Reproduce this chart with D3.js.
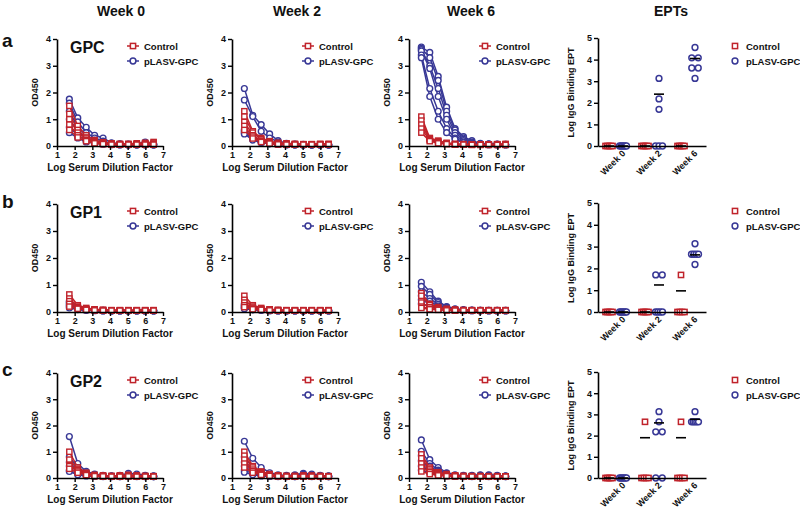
<!DOCTYPE html>
<html><head><meta charset="utf-8">
<script src="https://cdn.jsdelivr.net/npm/d3@7"></script>
<style>
body{margin:0;background:#fff}
text{font-family:"Liberation Sans",Arial,sans-serif;font-weight:bold;fill:#111}
</style>
</head><body>
<svg id="chart" width="800" height="510"></svg>
<script>
// ---------- DATA ----------
const dilutions = [1.699, 2.176, 2.653, 3.130, 3.607, 4.084, 4.561, 5.038, 5.515, 5.992, 6.469];
const weeks = ["Week 0", "Week 2", "Week 6"];
const columnTitles = ["Week 0", "Week 2", "Week 6", "EPTs"];
const antigens = ["GPC", "GP1", "GP2"];
const rowLetters = ["a", "b", "c"];
const seriesNames = ["Control", "pLASV-GPC"];
const odTicks = [0, 1, 2, 3, 4];
const dilutionTicks = [1, 2, 3, 4, 5, 6, 7];
const eptTicks = [0, 1, 2, 3, 4, 5];

// GPC OD450 curves
const gpcW0Control = [
 [1.50,0.75,0.40,0.22,0.14,0.10,0.08,0.08,0.10,0.12,0.15],
 [1.20,0.60,0.32,0.18,0.12,0.08,0.07,0.07,0.08,0.10,0.12],
 [1.00,0.50,0.28,0.15,0.10,0.07,0.06,0.06,0.07,0.08,0.08],
 [0.80,0.40,0.22,0.12,0.08,0.06,0.05,0.05,0.06,0.06,0.06],
 [0.60,0.32,0.18,0.10,0.07,0.05,0.05,0.05,0.05,0.05,0.05]];
const gpcW0Plasv = [
 [1.75,1.05,0.70,0.40,0.30,0.12,0.08,0.07,0.07,0.15,0.08],
 [1.60,0.90,0.50,0.30,0.18,0.10,0.07,0.06,0.06,0.08,0.06],
 [1.30,0.70,0.40,0.22,0.12,0.08,0.06,0.05,0.05,0.06,0.05],
 [1.00,0.55,0.30,0.18,0.10,0.07,0.05,0.05,0.05,0.05,0.05],
 [0.70,0.40,0.22,0.12,0.08,0.06,0.05,0.04,0.04,0.05,0.04],
 [0.50,0.30,0.15,0.10,0.07,0.05,0.04,0.04,0.04,0.04,0.04]];
const gpcW2Control = [
 [1.30,0.55,0.30,0.18,0.12,0.10,0.08,0.07,0.07,0.08,0.08],
 [1.10,0.50,0.25,0.15,0.10,0.08,0.07,0.06,0.06,0.07,0.07],
 [0.90,0.40,0.20,0.12,0.08,0.07,0.06,0.06,0.06,0.06,0.06],
 [0.75,0.35,0.18,0.10,0.07,0.06,0.05,0.05,0.05,0.05,0.05],
 [0.60,0.28,0.15,0.09,0.06,0.05,0.05,0.05,0.05,0.05,0.05]];
const gpcW2Plasv = [
 [2.15,1.15,0.80,0.45,0.20,0.10,0.07,0.06,0.05,0.05,0.05],
 [1.72,1.10,0.55,0.30,0.15,0.08,0.06,0.05,0.05,0.05,0.05],
 [0.60,0.35,0.20,0.12,0.08,0.06,0.05,0.05,0.05,0.05,0.05],
 [0.55,0.30,0.18,0.10,0.07,0.05,0.05,0.04,0.04,0.04,0.04],
 [0.50,0.25,0.15,0.09,0.06,0.05,0.04,0.04,0.04,0.04,0.04],
 [0.45,0.22,0.12,0.08,0.06,0.05,0.04,0.04,0.04,0.04,0.04]];
const gpcW6Control = [
 [1.10,0.30,0.20,0.12,0.08,0.07,0.06,0.06,0.06,0.07,0.08],
 [0.95,0.28,0.18,0.10,0.07,0.06,0.06,0.05,0.05,0.06,0.06],
 [0.80,0.25,0.15,0.09,0.06,0.05,0.05,0.05,0.05,0.05,0.05],
 [0.65,0.22,0.12,0.08,0.06,0.05,0.05,0.05,0.05,0.05,0.05],
 [0.50,0.18,0.10,0.07,0.05,0.05,0.04,0.04,0.04,0.04,0.04]];
const gpcW6Plasv = [
 [3.70,3.50,2.60,1.45,0.65,0.35,0.20,0.10,0.08,0.07,0.06],
 [3.65,3.30,2.45,1.30,0.60,0.30,0.15,0.08,0.07,0.06,0.06],
 [3.60,3.00,2.15,1.15,0.50,0.25,0.12,0.08,0.06,0.06,0.05],
 [3.55,2.90,1.85,1.00,0.40,0.20,0.10,0.07,0.06,0.05,0.05],
 [3.40,2.15,1.30,0.65,0.30,0.15,0.08,0.06,0.05,0.05,0.05],
 [3.30,1.85,1.00,0.50,0.25,0.12,0.07,0.06,0.05,0.05,0.05]];

// GP1 OD450 curves
const gp1W0Control = [
 [0.65,0.25,0.15,0.10,0.08,0.07,0.07,0.07,0.07,0.07,0.07],
 [0.50,0.20,0.12,0.09,0.07,0.06,0.06,0.06,0.06,0.06,0.06],
 [0.40,0.18,0.10,0.08,0.07,0.06,0.06,0.06,0.06,0.06,0.06],
 [0.30,0.15,0.09,0.07,0.06,0.05,0.05,0.05,0.05,0.05,0.05],
 [0.20,0.12,0.08,0.06,0.05,0.05,0.05,0.05,0.05,0.05,0.05]];
const gp1W0Plasv = [
 [0.40,0.18,0.10,0.07,0.06,0.05,0.05,0.05,0.05,0.05,0.05],
 [0.35,0.16,0.09,0.07,0.06,0.05,0.05,0.05,0.05,0.05,0.05],
 [0.30,0.14,0.08,0.06,0.05,0.05,0.05,0.05,0.05,0.05,0.05],
 [0.25,0.12,0.08,0.06,0.05,0.05,0.05,0.05,0.05,0.05,0.05],
 [0.20,0.10,0.07,0.06,0.05,0.05,0.05,0.05,0.05,0.05,0.05],
 [0.15,0.09,0.06,0.05,0.05,0.05,0.05,0.05,0.05,0.05,0.05]];
const gp1W2Control = [
 [0.60,0.25,0.15,0.10,0.08,0.07,0.07,0.07,0.07,0.07,0.07],
 [0.45,0.20,0.12,0.09,0.07,0.06,0.06,0.06,0.06,0.06,0.06],
 [0.35,0.16,0.10,0.08,0.06,0.06,0.06,0.06,0.06,0.06,0.06],
 [0.25,0.13,0.09,0.07,0.06,0.05,0.05,0.05,0.05,0.05,0.05],
 [0.18,0.10,0.08,0.06,0.05,0.05,0.05,0.05,0.05,0.05,0.05]];
const gp1W2Plasv = [
 [0.30,0.15,0.10,0.07,0.06,0.05,0.05,0.05,0.05,0.05,0.05],
 [0.25,0.13,0.09,0.06,0.05,0.05,0.05,0.05,0.05,0.05,0.05],
 [0.22,0.12,0.08,0.06,0.05,0.05,0.05,0.05,0.05,0.05,0.05],
 [0.18,0.10,0.07,0.06,0.05,0.05,0.05,0.05,0.05,0.05,0.05],
 [0.15,0.09,0.07,0.05,0.05,0.05,0.05,0.05,0.05,0.05,0.05],
 [0.12,0.08,0.06,0.05,0.05,0.05,0.05,0.05,0.05,0.05,0.05]];
const gp1W6Control = [
 [0.70,0.30,0.18,0.12,0.09,0.07,0.07,0.07,0.07,0.07,0.07],
 [0.60,0.26,0.15,0.10,0.08,0.07,0.06,0.06,0.06,0.06,0.06],
 [0.35,0.18,0.12,0.08,0.07,0.06,0.06,0.06,0.06,0.06,0.06],
 [0.20,0.12,0.09,0.07,0.06,0.05,0.05,0.05,0.05,0.05,0.05],
 [0.15,0.10,0.08,0.06,0.05,0.05,0.05,0.05,0.05,0.05,0.05]];
const gp1W6Plasv = [
 [1.10,0.75,0.40,0.20,0.12,0.08,0.07,0.06,0.06,0.06,0.06],
 [0.95,0.65,0.35,0.18,0.10,0.08,0.06,0.06,0.06,0.06,0.06],
 [0.75,0.50,0.28,0.15,0.09,0.07,0.06,0.06,0.05,0.05,0.05],
 [0.60,0.40,0.22,0.12,0.08,0.06,0.06,0.05,0.05,0.05,0.05],
 [0.45,0.30,0.18,0.10,0.07,0.06,0.05,0.05,0.05,0.05,0.05],
 [0.30,0.20,0.12,0.08,0.06,0.05,0.05,0.05,0.05,0.05,0.05]];

// GP2 OD450 curves
const gp2W0Control = [
 [1.00,0.40,0.20,0.12,0.10,0.08,0.10,0.12,0.10,0.08,0.07],
 [0.70,0.35,0.18,0.10,0.08,0.07,0.08,0.10,0.08,0.07,0.06],
 [0.50,0.30,0.15,0.09,0.07,0.06,0.07,0.08,0.07,0.06,0.06],
 [0.45,0.25,0.13,0.08,0.06,0.06,0.06,0.07,0.06,0.06,0.05],
 [0.35,0.20,0.11,0.07,0.06,0.05,0.05,0.06,0.05,0.05,0.05]];
const gp2W0Plasv = [
 [1.58,0.55,0.25,0.15,0.10,0.08,0.10,0.18,0.15,0.10,0.08],
 [0.80,0.40,0.20,0.12,0.08,0.07,0.08,0.12,0.10,0.08,0.07],
 [0.60,0.30,0.18,0.10,0.07,0.06,0.07,0.10,0.08,0.07,0.06],
 [0.45,0.25,0.14,0.09,0.06,0.06,0.06,0.08,0.07,0.06,0.05],
 [0.30,0.15,0.10,0.07,0.06,0.05,0.05,0.06,0.06,0.05,0.05],
 [0.25,0.12,0.08,0.06,0.05,0.05,0.05,0.05,0.05,0.05,0.05]];
const gp2W2Control = [
 [1.00,0.45,0.25,0.15,0.10,0.08,0.08,0.10,0.09,0.08,0.07],
 [0.85,0.40,0.22,0.13,0.09,0.07,0.07,0.08,0.08,0.07,0.06],
 [0.70,0.32,0.18,0.11,0.08,0.06,0.06,0.07,0.07,0.06,0.06],
 [0.55,0.26,0.15,0.10,0.07,0.06,0.06,0.06,0.06,0.06,0.05],
 [0.40,0.20,0.12,0.08,0.06,0.05,0.05,0.05,0.05,0.05,0.05]];
const gp2W2Plasv = [
 [1.40,0.75,0.40,0.20,0.12,0.10,0.12,0.18,0.15,0.10,0.08],
 [0.80,0.40,0.22,0.12,0.08,0.07,0.09,0.14,0.12,0.08,0.07],
 [0.60,0.30,0.18,0.10,0.07,0.06,0.08,0.10,0.09,0.07,0.06],
 [0.45,0.22,0.14,0.09,0.06,0.06,0.07,0.08,0.07,0.06,0.05],
 [0.30,0.16,0.10,0.07,0.06,0.05,0.05,0.06,0.06,0.05,0.05],
 [0.22,0.12,0.08,0.06,0.05,0.05,0.05,0.05,0.05,0.05,0.05]];
const gp2W6Control = [
 [0.90,0.40,0.22,0.15,0.10,0.08,0.07,0.07,0.07,0.07,0.06],
 [0.75,0.35,0.18,0.12,0.09,0.07,0.07,0.07,0.06,0.06,0.06],
 [0.55,0.28,0.15,0.10,0.08,0.06,0.06,0.06,0.06,0.06,0.05],
 [0.40,0.22,0.12,0.09,0.07,0.06,0.06,0.06,0.05,0.05,0.05],
 [0.25,0.15,0.10,0.07,0.06,0.05,0.05,0.05,0.05,0.05,0.05]];
const gp2W6Plasv = [
 [1.45,0.70,0.40,0.20,0.12,0.10,0.10,0.12,0.12,0.10,0.08],
 [1.02,0.55,0.30,0.18,0.10,0.08,0.09,0.10,0.10,0.08,0.07],
 [0.85,0.45,0.25,0.15,0.09,0.07,0.08,0.09,0.09,0.07,0.06],
 [0.65,0.35,0.20,0.12,0.08,0.06,0.07,0.08,0.07,0.06,0.06],
 [0.45,0.25,0.15,0.10,0.07,0.06,0.06,0.06,0.06,0.05,0.05],
 [0.30,0.18,0.11,0.08,0.06,0.05,0.05,0.05,0.05,0.05,0.05]];

// EPT (log IgG binding endpoint titers), one array per week
const gpcEptControl = [[0,0,0,0,0],[0,0,0,0,0],[0,0,0,0,0]];
const gpcEptPlasv = [[0,0,0,0,0,0],[3.13,2.18,1.70,0,0,0],[4.56,4.08,4.08,3.61,3.61,3.13]];
const gpcEptControlMean = [0, 0, 0];
const gpcEptPlasvMean = [0, 2.40, 4.05];
const gp1EptControl = [[0,0,0,0,0],[0,0,0,0,0],[1.70,0,0,0,0]];
const gp1EptPlasv = [[0,0,0,0,0,0],[1.70,1.70,0,0,0,0],[3.13,2.65,2.65,2.65,2.65,2.18]];
const gp1EptControlMean = [0, 0, 0.97];
const gp1EptPlasvMean = [0, 1.24, 2.62];
const gp2EptControl = [[0,0,0,0,0],[2.65,0,0,0,0],[2.65,0,0,0,0]];
const gp2EptPlasv = [[0,0,0,0,0,0],[3.13,2.65,2.18,2.18,0,0],[3.13,2.65,2.65,2.65,2.65,2.65]];
const gp2EptControlMean = [0, 1.90, 1.90];
const gp2EptPlasvMean = [0, 2.60, 2.77];

// ---------- LAYOUT ----------
const RED = "#c0232b", BLUE = "#383896";
const colX0 = [57, 232, 409];
const plotW = 106;
const eptX0 = 598, eptW = 108;
const rowTop = [39, 204, 373];
const rowBottom = [146, 312, 478];
const letterY = [47, 208, 376];
const headerX = [121, 297, 471, 671];

const curveData = [
  [[gpcW0Control, gpcW0Plasv], [gpcW2Control, gpcW2Plasv], [gpcW6Control, gpcW6Plasv]],
  [[gp1W0Control, gp1W0Plasv], [gp1W2Control, gp1W2Plasv], [gp1W6Control, gp1W6Plasv]],
  [[gp2W0Control, gp2W0Plasv], [gp2W2Control, gp2W2Plasv], [gp2W6Control, gp2W6Plasv]]];
const eptData = [
  [gpcEptControl, gpcEptPlasv, gpcEptControlMean, gpcEptPlasvMean],
  [gp1EptControl, gp1EptPlasv, gp1EptControlMean, gp1EptPlasvMean],
  [gp2EptControl, gp2EptPlasv, gp2EptControlMean, gp2EptPlasvMean]];

const svg = d3.select("#chart");

function marker(g, kind, cx, cy, color, sw) {
  if (kind === 0) {
    g.append("rect").attr("x", cx - 2.6).attr("y", cy - 2.6).attr("width", 5.2).attr("height", 5.2)
      .attr("fill", "#fff").attr("stroke", color).attr("stroke-width", sw);
  } else {
    g.append("circle").attr("cx", cx).attr("cy", cy).attr("r", 2.9)
      .attr("fill", "#fff").attr("stroke", color).attr("stroke-width", sw);
  }
}

function styleAxis(ax) {
  ax.selectAll("path.domain").attr("stroke", "#000").attr("stroke-width", 1.6);
  ax.selectAll(".tick line").attr("stroke", "#000").attr("stroke-width", 1.4);
  ax.selectAll(".tick text").style("font-family", '"Liberation Sans",Arial,sans-serif')
    .style("font-weight", "bold").style("font-size", "9px").attr("fill", "#111");
}

function legend(g, lx, ly, withLine) {
  seriesNames.forEach((name, i) => {
    const yy = ly + i * 15;
    const color = i === 0 ? RED : BLUE;
    if (withLine) {
      g.append("line").attr("x1", lx - 6).attr("x2", lx + 6).attr("y1", yy).attr("y2", yy)
        .attr("stroke", color).attr("stroke-width", 1.5);
    }
    marker(g, i, lx, yy, color, 1.5);
    g.append("text").attr("x", lx + 11).attr("y", yy + 3.5).style("font-size", "9.5px").text(name);
  });
}

// headers
columnTitles.forEach((t, i) => {
  svg.append("text").attr("x", headerX[i]).attr("y", 16).attr("text-anchor", "middle")
    .style("font-size", "14px").text(t);
});

for (let r = 0; r < 3; r++) {
  svg.append("text").attr("x", 2).attr("y", letterY[r]).style("font-size", "19px").text(rowLetters[r]);
  const top = rowTop[r], bottom = rowBottom[r];
  for (let c = 0; c < 3; c++) {
    const g = svg.append("g");
    const x0 = colX0[c];
    const x = d3.scaleLinear().domain([1, 7]).range([x0, x0 + plotW]);
    const y = d3.scaleLinear().domain([0, 4]).range([bottom, top]);
    const line = d3.line().x((d, i) => x(dilutions[i])).y(d => y(d));
    const [ctrl, plasv] = curveData[r][c];
    // pLASV first, control on top
    [[plasv, 1, BLUE], [ctrl, 0, RED]].forEach(([set, kind, color]) => {
      set.forEach(vals => {
        g.append("path").attr("d", line(vals)).attr("fill", "none").attr("stroke", color).attr("stroke-width", 1.5);
      });
      set.forEach(vals => {
        vals.forEach((v, i) => marker(g, kind, x(dilutions[i]), y(v), color, 1.4));
      });
    });
    const ax = g.append("g").attr("transform", `translate(0,${bottom})`)
      .call(d3.axisBottom(x).tickValues(dilutionTicks).tickFormat(d3.format("d")).tickSize(4).tickSizeOuter(0).tickPadding(2));
    styleAxis(ax);
    const ay = g.append("g").attr("transform", `translate(${x0},0)`)
      .call(d3.axisLeft(y).tickValues(odTicks).tickFormat(d3.format("d")).tickSize(4).tickSizeOuter(0).tickPadding(2));
    styleAxis(ay);
    g.append("text").attr("x", x0 + plotW / 2).attr("y", bottom + 25).attr("text-anchor", "middle")
      .style("font-size", "10px").text("Log Serum Dilution Factor");
    g.append("text").attr("transform", `translate(${x0 - 19},${(top + bottom) / 2}) rotate(-90)`)
      .attr("text-anchor", "middle").style("font-size", "9px").text("OD450");
    if (c === 0) {
      g.append("text").attr("x", x0 + 13).attr("y", top + 14).style("font-size", "16px").text(antigens[r]);
    }
    legend(g, x0 + 76, top + 7, true);
  }
  // EPT panel
  const g = svg.append("g");
  const xb = d3.scaleBand().domain(weeks).range([eptX0, eptX0 + eptW]);
  const y = d3.scaleLinear().domain([0, 5]).range([bottom, top - 1]);
  const [ctrl, plasv, ctrlMean, plasvMean] = eptData[r];
  [[ctrl, ctrlMean, 0, RED, -7], [plasv, plasvMean, 1, BLUE, 7]].forEach(([sets, means, kind, color, off]) => {
    sets.forEach((vals, wi) => {
      const cx = xb(weeks[wi]) + xb.bandwidth() / 2 + off;
      // spread equal values horizontally
      const groups = d3.group(vals, v => v);
      groups.forEach((arr, v) => {
        const n = arr.length;
        const step = n <= 1 ? 0 : (n === 2 ? 6.5 : 7 / (n - 1));
        arr.forEach((_, k) => marker(g, kind, cx + (k - (n - 1) / 2) * step, y(v), color, 1.5));
      });
      g.append("line").attr("x1", cx - 5).attr("x2", cx + 5).attr("y1", y(means[wi])).attr("y2", y(means[wi]))
        .attr("stroke", "#000").attr("stroke-width", 1.6);
    });
  });
  const ax = g.append("g").attr("transform", `translate(0,${bottom})`)
    .call(d3.axisBottom(xb).tickSize(0).tickSizeOuter(0).tickPadding(4));
  styleAxis(ax);
  ax.selectAll(".tick text").attr("text-anchor", "end").attr("transform", "translate(4,2) rotate(-45)")
    .attr("dy", "0.5em");
  const ay = g.append("g").attr("transform", `translate(${eptX0},0)`)
    .call(d3.axisLeft(y).tickValues(eptTicks).tickFormat(d3.format("d")).tickSize(4).tickSizeOuter(0).tickPadding(2));
  styleAxis(ay);
  g.append("text").attr("transform", `translate(${eptX0 - 24},${(top + bottom) / 2}) rotate(-90)`)
    .attr("text-anchor", "middle").style("font-size", "9px").text("Log IgG Binding EPT");
  legend(g, eptX0 + 137, top + 7, false);
}
</script>
</body></html>
